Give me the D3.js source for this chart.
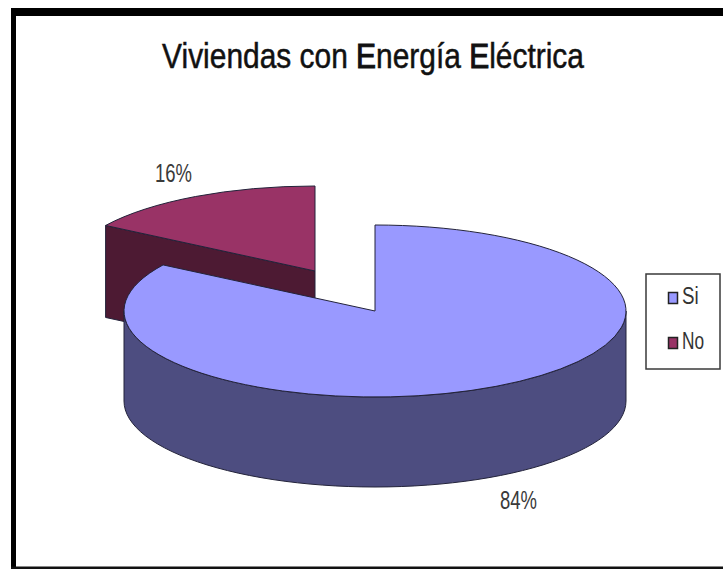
<!DOCTYPE html>
<html><head><meta charset="utf-8">
<script src="https://cdn.jsdelivr.net/npm/d3@7"></script>
<style>html,body{margin:0;padding:0;background:#fff}svg{display:block}text{font-family:"Liberation Sans",Arial,sans-serif}</style>
</head><body><svg id="c" width="723" height="569"></svg>
<script>
const titleParts = ["Viviendas con ", "E", "nergía ", "E", "léctrica"];
const categories = ["Si", "No"];
const values = [84, 16];
const topColors = ["#9999FF", "#993366"];
const wallColors = ["#4D4D80", "#4D1A33"];

const svg = d3.select("#c");
const frame = svg.append("g");
frame.append("rect").attr("x",11).attr("y",8).attr("width",712).attr("height",8).attr("fill","#000");
frame.append("rect").attr("x",11).attr("y",8).attr("width",5).attr("height",561).attr("fill","#000");
frame.append("rect").attr("x",11).attr("y",566.5).attr("width",712).attr("height",2.5).attr("fill","#111");

const centers = [
  {x:375,y:311,rx:251,ry:86,d:90},
  {x:315,y:271,rx:248,ry:85,d:92}
];
const outline = "#23233a";
const arcs = d3.pie().sort(null).startAngle(0).endAngle(2*Math.PI)(values);
const pt = (c,a)=>[c.x+c.rx*Math.sin(a), c.y-c.ry*Math.cos(a)];
const line = d3.line();

function drawWalls(i){
  const a=arcs[i], c=centers[i], g=svg.append("g");
  const s=Math.max(a.startAngle,Math.PI/2), e=Math.min(a.endAngle,3*Math.PI/2);
  if(i===1){
    const p=pt(c,a.startAngle);
    g.append("path").attr("d",line([[c.x,c.y],p,[p[0],p[1]+c.d],[c.x,c.y+c.d]])+"Z")
     .attr("fill",wallColors[i]).attr("stroke",outline).attr("stroke-width",1);
  }
  if(e>s){
    const n=d3.range(0,61).map(k=>s+(e-s)*k/60);
    const upper=n.map(t=>pt(c,t));
    const lower=n.slice().reverse().map(t=>{const q=pt(c,t);return [q[0],q[1]+c.d];});
    g.append("path").attr("d",line(upper.concat(lower))+"Z")
     .attr("fill",wallColors[i]).attr("stroke",outline).attr("stroke-width",1);
  }
}
function drawTop(i){
  const c=centers[i];
  const arc=d3.arc().innerRadius(0).outerRadius(c.rx);
  svg.append("path").attr("d",arc(arcs[i]))
    .attr("transform",`translate(${c.x},${c.y}) scale(1,${c.ry/c.rx})`)
    .attr("fill",topColors[i]).attr("stroke",outline).attr("stroke-width",1)
    .attr("vector-effect","non-scaling-stroke");
}
drawWalls(1); drawTop(1);
drawWalls(0); drawTop(0);

function squeezed(str,x,y,size,sx,fill,anchor){
  return svg.append("text").text(str).attr("transform",`translate(${x},${y}) scale(${sx},1)`)
    .attr("text-anchor",anchor||"middle").attr("font-size",size).attr("fill",fill);
}
const title = svg.append("text").attr("transform","translate(373,68) scale(0.855,1)")
  .attr("text-anchor","middle").attr("font-size",35).attr("fill","#111")
  .attr("stroke","#111").attr("stroke-width",0.5);
title.selectAll("tspan").data(titleParts).join("tspan").text(d=>d)
  .attr("stroke-width",d=>d==="E"?1.1:0.5);

const labels = values.map(v=>v+"%");
squeezed(labels[1],173.5,182,25,0.74,"#3a3a3a");
squeezed(labels[0],518.5,509,25,0.74,"#3a3a3a");

svg.append("rect").attr("x",646).attr("y",274).attr("width",74).attr("height",95)
  .attr("fill","#fff").attr("stroke","#3a3a3a").attr("stroke-width",1.5);
categories.forEach((cat,i)=>{
  const y=292.5+i*45;
  svg.append("rect").attr("x",668.5).attr("y",y).attr("width",9).attr("height",11)
    .attr("fill",topColors[i]).attr("stroke","#222").attr("stroke-width",1.5);
  squeezed(cat,682,y+11,24,i===0?0.78:0.72,"#333","start");
});
</script></body></html>
